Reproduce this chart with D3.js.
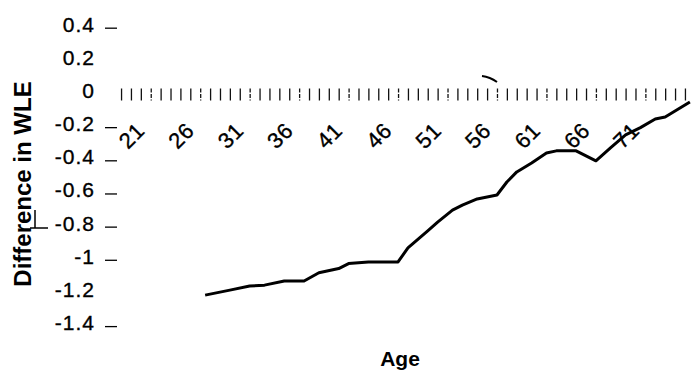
<!DOCTYPE html>
<html>
<head>
<meta charset="utf-8">
<script src="https://cdn.jsdelivr.net/npm/d3@7"></script>
<style>
  html, body { margin: 0; padding: 0; background: #fff; }
  svg { display: block; }
  text { font-family: "Liberation Sans", Arial, sans-serif; fill: #000; }
</style>
</head>
<body>
<svg id="chart" width="691" height="379"></svg>
<script>
// ---- data ----
const ages = [29, 31.5, 33.5, 35, 37, 39, 40.5, 42.5, 43.5, 45.5, 48.5, 49.5, 51.5, 52.5, 54, 55, 56.5, 58.5, 59.5, 60.5, 62, 63.5, 64.5, 66.5, 68.5, 70, 71.5, 73, 74.5, 75.5, 78];
const diffWLE = [-1.21, -1.18, -1.155, -1.15, -1.125, -1.125, -1.075, -1.05, -1.02, -1.01, -1.01, -0.925, -0.823, -0.77, -0.697, -0.667, -0.63, -0.606, -0.528, -0.467, -0.413, -0.353, -0.34, -0.34, -0.40, -0.32, -0.244, -0.20, -0.148, -0.136, -0.045];
const xTickLabels = [21, 26, 31, 36, 41, 46, 51, 56, 61, 66, 71];
const categoryAges = d3.range(21, 78);           // 21 .. 77
const yTickLabels = [0.4, 0.2, 0, -0.2, -0.4, -0.6, -0.8, -1, -1.2, -1.4];
const yTickMarks = [0.4, -0.2, -0.4, -0.6, -0.8, -1, -1.4];

const svg = d3.select("#chart");

const x = d3.scaleLinear().domain([21, 77]).range([126, 680]);
const y = d3.scaleLinear().domain([0, -1.4]).range([94.5, 326.6]);

// y-axis tick labels
svg.append("g").selectAll("text").data(yTickLabels).join("text")
  .attr("x", 95)
  .attr("y", d => y(d) + 3.5)
  .attr("text-anchor", "end")
  .style("font-size", "21px")
  .style("letter-spacing", "1px")
  .style("stroke", "#000").style("stroke-width", "0.35px")
  .text(d => d3.format("")(d).replace("−", "-"));

// y-axis tick marks (short dashes)
svg.append("g").selectAll("line").data(yTickMarks).join("line")
  .attr("x1", 105).attr("x2", 117)
  .attr("y1", d => y(d)).attr("y2", d => y(d))
  .attr("stroke", "#000").attr("stroke-width", 1.3);

// x axis at zero: vertical tick marks at category boundaries
const boundaries = categoryAges.map(a => a - 0.5).concat([77.5]);
const xAxis = d3.axisBottom(x).tickValues(boundaries).tickSize(12).tickFormat("");
const gx = svg.append("g").attr("transform", `translate(0,${y(0) - 6})`).call(xAxis);
gx.select(".domain").remove();
gx.selectAll(".tick line").attr("stroke", "#111").attr("stroke-width", 1.3)
  .attr("stroke-dasharray", (d, i) => (i % 5 === 3 ? "4,1.5" : null));

// x tick labels rotated
svg.append("g").selectAll("text").data(xTickLabels).join("text")
  .attr("transform", d => `translate(${x(d) + 20},132) rotate(-45)`)
  .attr("text-anchor", "end")
  .style("font-size", "22px")
  .style("letter-spacing", "0.5px")
  .style("stroke", "#000").style("stroke-width", "0.35px")
  .text(d => d);

// data line
const line = d3.line().x((d, i) => x(ages[i])).y(d => y(d));
svg.append("path")
  .datum(diffWLE)
  .attr("d", line)
  .attr("fill", "none")
  .attr("stroke", "#000")
  .attr("stroke-width", 3)
  .attr("stroke-linejoin", "round");

// axis titles
svg.append("text")
  .attr("transform", "translate(31,184) rotate(-90)")
  .attr("text-anchor", "middle")
  .style("font-size", "24px")
  .style("font-weight", "bold")
  .text("Difference in WLE");

svg.append("text")
  .attr("x", 400).attr("y", 366)
  .attr("text-anchor", "middle")
  .style("font-size", "21px")
  .style("font-weight", "bold")
  .text("Age");

// small scan marks
svg.append("path").attr("d", "M30,228 H48 M35,210 V228").attr("stroke", "#000").attr("stroke-width", 1.5).attr("fill", "none");
svg.append("path").attr("d", "M482,76 Q490,77 497,82").attr("stroke", "#000").attr("stroke-width", 2).attr("fill", "none");
</script>
</body>
</html>
